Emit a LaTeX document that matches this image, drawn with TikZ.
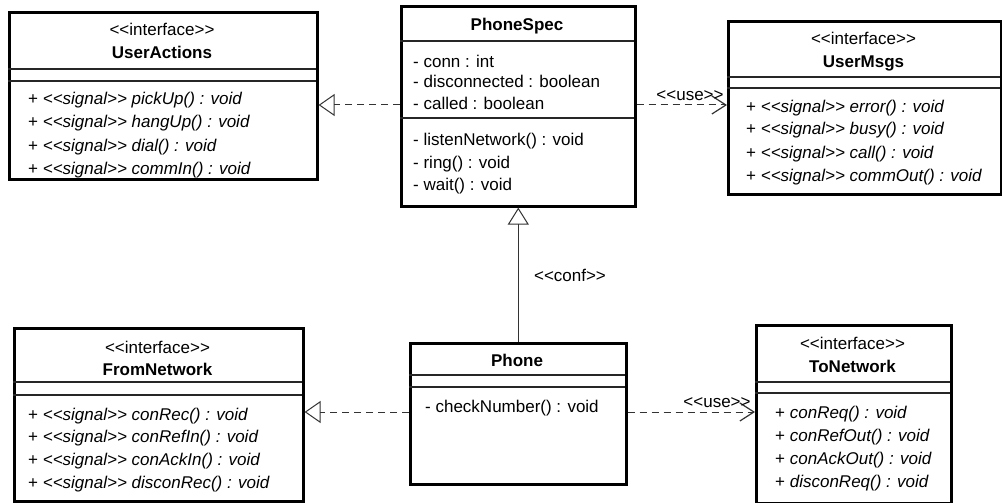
\documentclass[tikz,border=0pt]{standalone}
\usepackage{fontspec}
\setmainfont{Liberation Sans}
\usetikzlibrary{arrows.meta}
\newcommand\lgl{<\kern0pt<}
\newcommand\rgr{>\kern0pt>}
\begin{document}
\begin{tikzpicture}[x=1pt,y=-1pt,font=\fontsize{17}{20}\selectfont,
  classbox/.style={draw,line width=2.6pt,inner sep=0pt,anchor=north west},
  sepline/.style={line width=1.2pt,draw=black!85},
  txt/.style={anchor=base west,inner sep=0pt},
  ctr/.style={anchor=base,inner sep=0pt},
  conn/.style={line width=1pt,draw=black!80},
  dsh/.style={conn,dash pattern=on 7pt off 5pt},
  real/.style={dsh,-{Triangle[open,length=16pt,width=22pt,line width=1pt]}},
  usearrow/.style={dsh,-{Straight Barb[length=14pt,width=18pt,line width=1.2pt]}},
  gen/.style={conn,-{Triangle[open,length=17pt,width=21pt,line width=1pt]}},
  lbl/.style={anchor=base,inner sep=0pt}]
\useasboundingbox (0,0) rectangle (1002,503);

% ---------- UserActions ----------
\node[classbox,minimum width=308pt,minimum height=167pt] (ua) at (8,11) {};
\draw[sepline] (8,69) -- (316,69);
\draw[sepline] (8,81) -- (316,81);
\node[ctr] (uast) at (162,36) {\lgl interface\rgr};
\node[ctr] (uanm) at (162,59) {\bfseries UserActions};
\node[txt] (uao1) at (28,105) {+ \textit{\lgl signal\rgr\ pickUp() : void}};
\node[txt] (uao2) at (28,128) {+ \textit{\lgl signal\rgr\ hangUp() : void}};
\node[txt] (uao3) at (28,151) {+ \textit{\lgl signal\rgr\ dial() : void}};
\node[txt] (uao4) at (28,174) {+ \textit{\lgl signal\rgr\ commIn() : void}};

% ---------- PhoneSpec ----------
\node[classbox,minimum width=234pt,minimum height=200pt] (ps) at (400,5) {};
\draw[sepline] (400,41) -- (634,41);
\draw[sepline] (400,118) -- (634,118);
\node[ctr] (psnm) at (517,31) {\bfseries PhoneSpec};
\node[txt] (psa1) at (413,67) {- conn : int};
\node[txt] (psa2) at (413,88) {- disconnected : boolean};
\node[txt] (psa3) at (413,110) {- called : boolean};
\node[txt] (pso1) at (413,146) {- listenNetwork() : void};
\node[txt] (pso2) at (413,168) {- ring() : void};
\node[txt] (pso3) at (413,190) {- wait() : void};

% ---------- UserMsgs ----------
\node[classbox,minimum width=273pt,minimum height=173pt] (um) at (727,20) {};
\draw[sepline] (727,77) -- (1000,77);
\draw[sepline] (727,88) -- (1000,88);
\node[ctr] (umst) at (863.5,45) {\lgl interface\rgr};
\node[ctr] (umnm) at (863.5,67) {\bfseries UserMsgs};
\node[txt] (umo1) at (746,112) {+ \textit{\lgl signal\rgr\ error() : void}};
\node[txt] (umo2) at (746,135) {+ \textit{\lgl signal\rgr\ busy() : void}};
\node[txt] (umo3) at (746,158) {+ \textit{\lgl signal\rgr\ call() : void}};
\node[txt] (umo4) at (746,181) {+ \textit{\lgl signal\rgr\ commOut() : void}};

% ---------- FromNetwork ----------
\node[classbox,minimum width=289pt,minimum height=173pt] (fn) at (13,327) {};
\draw[sepline] (13,382) -- (302,382);
\draw[sepline] (13,395) -- (302,395);
\node[ctr] (fnst) at (157.5,353) {\lgl interface\rgr};
\node[ctr] (fnnm) at (157.5,375) {\bfseries FromNetwork};
\node[txt] (fno1) at (28,420) {+ \textit{\lgl signal\rgr\ conRec() : void}};
\node[txt] (fno2) at (28,442) {+ \textit{\lgl signal\rgr\ conRefIn() : void}};
\node[txt] (fno3) at (28,465) {+ \textit{\lgl signal\rgr\ conAckIn() : void}};
\node[txt] (fno4) at (28,488) {+ \textit{\lgl signal\rgr\ disconRec() : void}};

% ---------- Phone ----------
\node[classbox,minimum width=216pt,minimum height=141pt] (ph) at (409,342) {};
\draw[sepline] (409,375) -- (625,375);
\draw[sepline] (409,387) -- (625,387);
\node[ctr] (phnm) at (517,366) {\bfseries Phone};
\node[txt] (pho1) at (425,412) {- checkNumber() : void};

% ---------- ToNetwork ----------
\node[classbox,minimum width=195pt,minimum height=178pt] (tn) at (755,324) {};
\draw[sepline] (755,382) -- (950,382);
\draw[sepline] (755,393) -- (950,393);
\node[ctr] (tnst) at (852.5,349) {\lgl interface\rgr};
\node[ctr] (tnnm) at (852.5,372) {\bfseries ToNetwork};
\node[txt] (tno1) at (775,418) {+ \textit{conReq() : void}};
\node[txt] (tno2) at (775,441) {+ \textit{conRefOut() : void}};
\node[txt] (tno3) at (775,464) {+ \textit{conAckOut() : void}};
\node[txt] (tno4) at (775,487) {+ \textit{disconReq() : void}};

% ---------- connectors ----------
\coordinate (yup) at (0,105);
\coordinate (ylo) at (0,412);
\draw[real] (ps.west |- yup) -- (ua.east |- yup);
\draw[usearrow] (ps.east |- yup) -- (um.west |- yup);
\node[lbl] (use1) at (690,101) {\lgl use\rgr};
\draw[gen] (ph.north) -- (ps.south);
\node[lbl] (conf) at (570,281) {\lgl conf\rgr};
\draw[real] (ph.west |- ylo) -- (fn.east |- ylo);
\draw[usearrow] (ph.east |- ylo) -- (tn.west |- ylo);
\node[lbl] (use2) at (717,407) {\lgl use\rgr};
\end{tikzpicture}
\end{document}
